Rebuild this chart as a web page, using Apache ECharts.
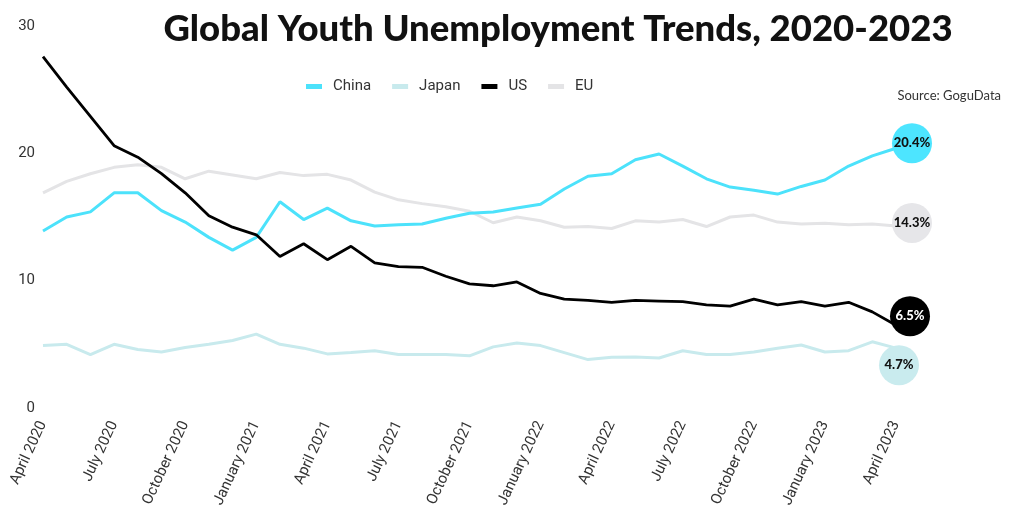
<!DOCTYPE html>
<html>
<head>
<meta charset="utf-8">
<script src="https://cdn.jsdelivr.net/npm/echarts@6/dist/echarts.min.js"></script>
<style>
  html, body { margin: 0; padding: 0; background: #fff; }
  #chart { width: 1018px; height: 506px; }
</style>
</head>
<body>
<div id="chart"></div>
<script>
const months = [
  'April 2020','May 2020','June 2020','July 2020','August 2020','September 2020','October 2020','November 2020','December 2020',
  'January 2021','February 2021','March 2021','April 2021','May 2021','June 2021','July 2021','August 2021','September 2021','October 2021','November 2021','December 2021',
  'January 2022','February 2022','March 2022','April 2022','May 2022','June 2022','July 2022','August 2022','September 2022','October 2022','November 2022','December 2022',
  'January 2023','February 2023','March 2023','April 2023'
];

const china = [13.9, 15.0, 15.4, 16.9, 16.9, 15.5, 14.6, 13.4, 12.4, 13.4, 16.2, 14.8, 15.7,
  14.7, 14.3, 14.4, 14.45, 14.9, 15.3, 15.4, 15.7, 16.0, 17.2, 18.2, 18.4,
  19.5, 19.95, 19.0, 18.0, 17.35, 17.1, 16.8, 17.4, 17.9, 19.0, 19.8, 20.4];

const japan = [4.9, 5.0, 4.2, 5.0, 4.6, 4.4, 4.75, 5.0, 5.3, 5.8, 5.0, 4.7, 4.25,
  4.35, 4.5, 4.2, 4.2, 4.2, 4.1, 4.8, 5.1, 4.9, 4.35, 3.8, 3.98,
  4.0, 3.93, 4.5, 4.2, 4.2, 4.4, 4.7, 4.95, 4.4, 4.5, 5.2, 4.7];

const us = [27.6, 25.2, 22.9, 20.6, 19.7, 18.4, 16.9, 15.1, 14.2, 13.6, 11.9, 12.9, 11.65,
  12.7, 11.4, 11.1, 11.05, 10.35, 9.75, 9.6, 9.9, 9.0, 8.55, 8.45, 8.3,
  8.45, 8.4, 8.35, 8.1, 8.0, 8.55, 8.1, 8.35, 8.0, 8.3, 7.55, 6.5];

const eu = [16.9, 17.8, 18.4, 18.9, 19.1, 18.9, 18.0, 18.6, 18.3, 18.0, 18.5, 18.25, 18.35,
  17.9, 16.95, 16.35, 16.05, 15.8, 15.45, 14.55, 15.0, 14.7, 14.2, 14.25, 14.1,
  14.7, 14.6, 14.8, 14.25, 15.0, 15.15, 14.6, 14.45, 14.5, 14.4, 14.45, 14.3];

const seriesNames = ['China', 'Japan', 'US', 'EU'];
const yTicks = [0, 10, 20, 30];

const colors = { China: '#4ce2fb', Japan: '#c8eaed', US: '#000000', EU: '#e4e4e6' };
const bubbleColors = { China: '#4de5ff', Japan: '#c9ebee', US: '#000000', EU: '#e6e6e9' };
const bubbleText = { China: '#111', Japan: '#111', US: '#fff', EU: '#111' };
const bubbleOffset = { China: [16, -5], Japan: [3, 17], US: [14, -9], EU: [16, -3] };
const dataMap = { China: china, Japan: japan, US: us, EU: eu };
const zMap = { EU: 2, Japan: 3, China: 4, US: 5 };
const widthMap = { China: 3, Japan: 3, US: 2.8, EU: 3 };

const chart = echarts.init(document.getElementById('chart'), null, { renderer: 'canvas' });

const series = [];
seriesNames.forEach(name => {
  series.push({
    name: name,
    type: 'line',
    data: dataMap[name],
    showSymbol: false,
    symbol: 'none',
    smooth: false,
    z: zMap[name],
    lineStyle: { color: colors[name], width: widthMap[name] },
    itemStyle: { color: colors[name] },
    emphasis: { disabled: true },
    animation: false
  });
});
seriesNames.forEach(name => {
  const arr = dataMap[name];
  series.push({
    name: name + '_end',
    type: 'scatter',
    data: [[months[months.length - 1], arr[arr.length - 1]]],
    symbol: 'circle',
    symbolSize: 40,
    symbolOffset: bubbleOffset[name],
    z: 10,
    itemStyle: { color: bubbleColors[name], opacity: 1 },
    label: {
      show: true,
      position: 'inside',
      formatter: p => p.value[1].toFixed(1) + '%',
      color: bubbleText[name],
      fontFamily: 'Lato',
      fontWeight: 900,
      fontSize: 13
    },
    emphasis: { disabled: true },
    animation: false
  });
});

chart.setOption({
  animation: false,
  backgroundColor: '#ffffff',
  title: [{
    text: 'Global Youth Unemployment Trends, 2020-2023',
    left: 553,
    textAlign: 'center',
    top: 6,
    textStyle: { fontFamily: 'Lato', fontWeight: 900, fontSize: 36.5, color: '#111' }
  }, {
    text: 'Source: GoguData',
    right: 12,
    top: 84,
    textStyle: { fontFamily: 'Lato', fontWeight: 'normal', fontSize: 13, color: '#333' }
  }],
  legend: {
    data: seriesNames,
    top: 74,
    left: 301,
    icon: 'rect',
    itemWidth: 16,
    itemHeight: 5,
    itemGap: 21,
    textStyle: { fontFamily: 'Roboto', fontSize: 15, color: '#333', padding: [0, 0, 0, 6] }
  },
  grid: { left: 43, right: 122, top: 26, bottom: 98, containLabel: false, outerBoundsMode: 'none' },
  xAxis: {
    type: 'category',
    data: months,
    boundaryGap: false,
    axisLine: { show: false },
    axisTick: { show: false },
    splitLine: { show: false },
    axisLabel: {
      interval: 2,
      rotate: 65,
      margin: 14,
      fontFamily: 'Roboto',
      fontSize: 15,
      color: '#333'
    }
  },
  yAxis: {
    type: 'value',
    min: yTicks[0],
    max: yTicks[yTicks.length - 1],
    interval: 10,
    axisLine: { show: false },
    axisTick: { show: false },
    splitLine: { show: false },
    axisLabel: { fontFamily: 'Roboto', fontSize: 15, color: '#333', margin: 8 }
  },
  tooltip: { show: false },
  series: series
});
</script>
</body>
</html>
